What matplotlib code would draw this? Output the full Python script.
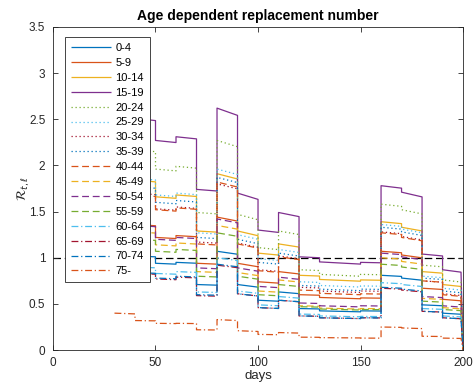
import matplotlib
matplotlib.use("Agg")
import matplotlib.pyplot as plt
import numpy as np

plt.rcParams["font.family"] = ["Liberation Sans", "DejaVu Sans"]

age_groups = ["0-4", "5-9", "10-14", "15-19", "20-24", "25-29", "30-34", "35-39",
              "40-44", "45-49", "50-54", "55-59", "60-64", "65-69", "70-74", "75-"]

# start day of each piecewise segment (last one runs to day 199, day 200 is 0)
seg_start = [30, 40, 50, 60, 70, 80, 90, 100, 110, 120, 130, 150, 160, 170, 180, 190]
last_day = 200

# ratio end/start within each segment (slow decay)
seg_drift = [0.98, 0.99, 0.99, 0.99, 0.99, 0.97, 0.96, 0.98, 0.97, 0.99, 0.975, 0.995,
             0.985, 0.97, 0.98, 0.97]

# value at the start of each segment, one row per age group
r_start = [
    [1.28, 1.02, 0.94, 0.95, 0.71, 1.07, 0.71, 0.54, 0.63, 0.45, 0.425, 0.425, 0.81, 0.78, 0.49, 0.40],
    [1.70, 1.36, 1.22, 1.24, 0.94, 1.44, 0.94, 0.74, 0.85, 0.60, 0.57, 0.565, 1.07, 1.03, 0.67, 0.55],
    [2.30, 1.84, 1.66, 1.68, 1.29, 1.91, 1.29, 1.05, 1.15, 0.81, 0.765, 0.76, 1.39, 1.33, 0.85, 0.71],
    [3.14, 2.51, 2.27, 2.31, 1.74, 2.62, 1.70, 1.30, 1.49, 1.01, 0.955, 0.95, 1.78, 1.71, 1.04, 0.87],
    [2.71, 2.17, 1.96, 1.99, 1.49, 2.27, 1.47, 1.11, 1.29, 0.87, 0.82, 0.82, 1.58, 1.52, 0.92, 0.76],
    [2.33, 1.86, 1.68, 1.70, 1.27, 1.96, 1.25, 0.99, 1.09, 0.74, 0.70, 0.695, 1.36, 1.31, 0.80, 0.67],
    [2.13, 1.70, 1.53, 1.55, 1.17, 1.80, 1.16, 0.87, 1.02, 0.68, 0.64, 0.64, 1.28, 1.23, 0.75, 0.61],
    [2.21, 1.77, 1.60, 1.62, 1.22, 1.87, 1.20, 0.95, 1.05, 0.70, 0.66, 0.66, 1.33, 1.28, 0.78, 0.64],
    [2.10, 1.68, 1.52, 1.54, 1.15, 1.82, 1.15, 0.86, 1.01, 0.65, 0.615, 0.61, 1.27, 1.22, 0.75, 0.60],
    [1.60, 1.28, 1.14, 1.16, 0.85, 1.35, 0.84, 0.64, 0.76, 0.48, 0.455, 0.45, 1.00, 0.96, 0.56, 0.46],
    [1.69, 1.35, 1.20, 1.22, 0.89, 1.42, 0.89, 0.69, 0.79, 0.51, 0.48, 0.48, 1.05, 1.01, 0.58, 0.48],
    [1.50, 1.20, 1.07, 1.09, 0.80, 1.27, 0.80, 0.60, 0.71, 0.47, 0.445, 0.44, 0.93, 0.90, 0.53, 0.44],
    [1.15, 0.90, 0.83, 0.85, 0.63, 1.00, 0.64, 0.49, 0.58, 0.39, 0.37, 0.365, 0.73, 0.71, 0.45, 0.37],
    [1.04, 0.83, 0.77, 0.79, 0.59, 0.92, 0.61, 0.46, 0.54, 0.37, 0.35, 0.35, 0.67, 0.65, 0.42, 0.35],
    [1.06, 0.84, 0.78, 0.80, 0.60, 0.93, 0.61, 0.46, 0.54, 0.37, 0.35, 0.35, 0.68, 0.66, 0.42, 0.35],
    [0.40, 0.32, 0.29, 0.29, 0.22, 0.33, 0.21, 0.17, 0.19, 0.14, 0.135, 0.13, 0.25, 0.24, 0.15, 0.13],
]

x_ticks = [0, 50, 100, 150, 200]
y_ticks = [0, 0.5, 1, 1.5, 2, 2.5, 3, 3.5]
y_ticklabels = ["0", "0.5", "1", "1.5", "2", "2.5", "3", "3.5"]

# MATLAB default color order and line style cycling
matlab_colors = ["#0072BD", "#D95319", "#EDB120", "#7E2F8E", "#77AC30", "#4DBEEE", "#A2142F"]
styles = [(0, ()), (0, (1, 2.2)), (0, (5.5, 3)), (0, (5.5, 2.2, 1, 2.2))]

fig = plt.figure(figsize=(4.73, 3.89), dpi=100)
ax = fig.add_axes([0.112, 0.100, 0.867, 0.831])

seg_end = seg_start[1:] + [last_day - 1]
for i, (label, row) in enumerate(zip(age_groups, r_start)):
    xs, ys = [], []
    for s, e, v, d in zip(seg_start, seg_end, row, seg_drift):
        xs += [s, e]
        ys += [v, v * d]
    xs.append(last_day)
    ys.append(0)
    ax.plot(xs, ys, color=matlab_colors[i % 7], linestyle=styles[i // 4],
            linewidth=0.9, label=label)

ax.axhline(1, color="black", linestyle=(0, (6, 3)), linewidth=0.9, zorder=1)

ax.set_xlim(0, 200)
ax.set_ylim(0, 3.5)
ax.set_xticks(x_ticks)
ax.set_yticks(y_ticks)
ax.set_yticklabels(y_ticklabels)
ax.tick_params(direction="in", length=3.5, width=0.6, top=True, right=True,
               labelsize=8.5, colors="#262626")
ax.tick_params(axis="y", pad=5.5)
ax.tick_params(axis="x", pad=5)
for sp in ax.spines.values():
    sp.set_color("#262626")
    sp.set_linewidth(0.6)

ax.set_title("Age dependent replacement number", fontsize=10, fontweight="bold", pad=5)
ax.set_xlabel("days", fontsize=9.5, color="#262626", labelpad=1)
ax.set_ylabel(r"$\mathcal{R}_{t,\ell}$", fontsize=9.5, color="#262626")
ax.yaxis.set_label_coords(-0.05, 0.5)

leg = ax.legend(loc="upper left", bbox_to_anchor=(0.029, 0.969), fontsize=8,
                handlelength=3.6, handletextpad=0.4, labelspacing=0.44,
                borderpad=0.55, borderaxespad=0, fancybox=False, framealpha=1)
leg.get_frame().set_edgecolor("#262626")
leg.get_frame().set_linewidth(0.6)

fig.savefig("out.png", dpi=100)
